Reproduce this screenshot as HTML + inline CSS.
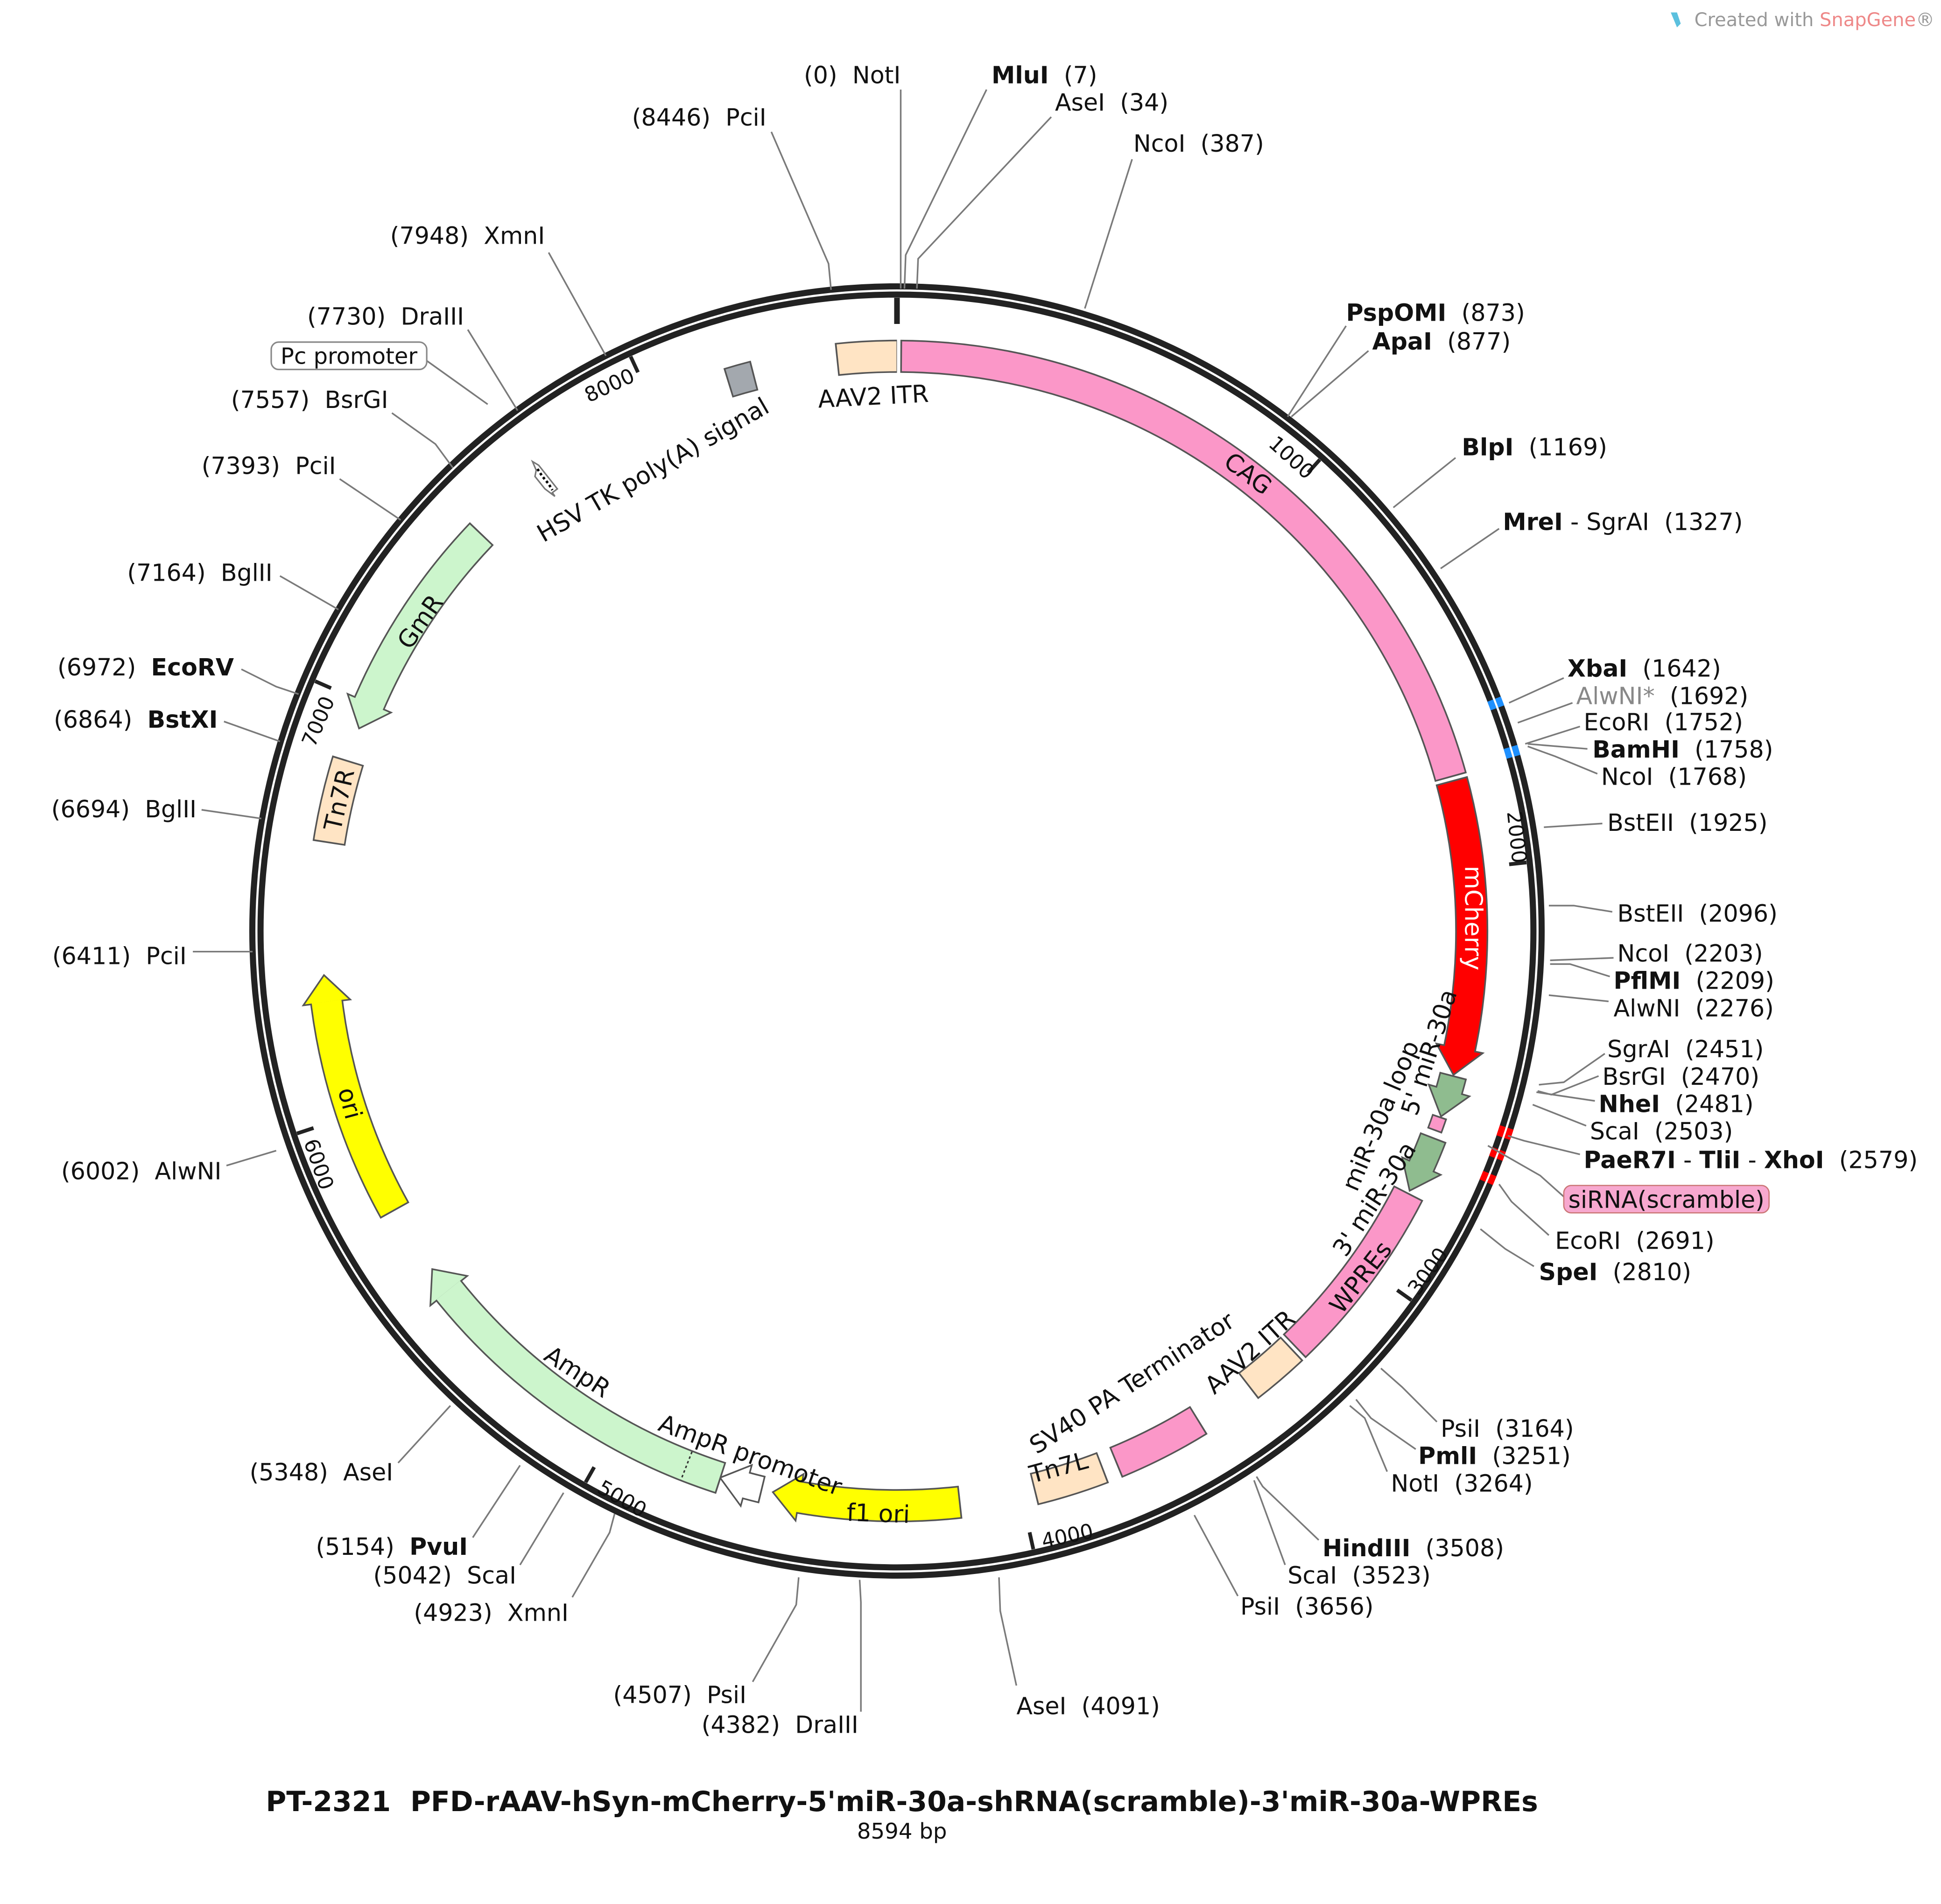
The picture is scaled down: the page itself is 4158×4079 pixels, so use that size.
<!DOCTYPE html>
<html><head><meta charset="utf-8">
<style>
html,body{margin:0;padding:0;background:#fff;}
svg{display:block;}
text{font-family:"DejaVu Sans","Liberation Sans",sans-serif;font-size:19px;fill:#111;white-space:pre;}
.b{font-weight:bold;}
.ld{stroke:#7a7a7a;stroke-width:1.3;fill:none;}
.c{fill:none;}
.h{stroke:#555;stroke-width:1.3;stroke-linejoin:miter;}
.fl{font-size:19.5px;}
.tk{font-size:16.5px;}
</style></head>
<body>
<svg xmlns="http://www.w3.org/2000/svg" width="4158" height="4079" viewBox="0 0 1560.2 1530.6">
<rect x="0" y="0" width="1560.2" height="1530.6" fill="#fff"/>

<!-- ring -->
<circle cx="721" cy="748.4" r="518.2" fill="none" stroke="#222" stroke-width="4.9"/>
<circle cx="721" cy="748.4" r="511.6" fill="none" stroke="#222" stroke-width="4.9"/>
<g transform="rotate(-90 721 748.4)">
<circle class="c" cx="721" cy="748.4" r="518.2" pathLength="8594" stroke="#1e90ff" stroke-width="5" stroke-dasharray="20 99999" stroke-dashoffset="-1642"/>
<circle class="c" cx="721" cy="748.4" r="511.6" pathLength="8594" stroke="#1e90ff" stroke-width="5" stroke-dasharray="20 99999" stroke-dashoffset="-1642"/>
<circle class="c" cx="721" cy="748.4" r="518.2" pathLength="8594" stroke="#1e90ff" stroke-width="5" stroke-dasharray="22 99999" stroke-dashoffset="-1750"/>
<circle class="c" cx="721" cy="748.4" r="511.6" pathLength="8594" stroke="#1e90ff" stroke-width="5" stroke-dasharray="22 99999" stroke-dashoffset="-1750"/>
<circle class="c" cx="721" cy="748.4" r="518.2" pathLength="8594" stroke="#f00" stroke-width="5" stroke-dasharray="23 99999" stroke-dashoffset="-2575"/>
<circle class="c" cx="721" cy="748.4" r="511.6" pathLength="8594" stroke="#f00" stroke-width="5" stroke-dasharray="23 99999" stroke-dashoffset="-2575"/>
<circle class="c" cx="721" cy="748.4" r="518.2" pathLength="8594" stroke="#f00" stroke-width="5" stroke-dasharray="20 99999" stroke-dashoffset="-2625"/>
<circle class="c" cx="721" cy="748.4" r="511.6" pathLength="8594" stroke="#f00" stroke-width="5" stroke-dasharray="20 99999" stroke-dashoffset="-2625"/>
<circle class="c" cx="721" cy="748.4" r="518.2" pathLength="8594" stroke="#f00" stroke-width="5" stroke-dasharray="20 99999" stroke-dashoffset="-2680"/>
<circle class="c" cx="721" cy="748.4" r="511.6" pathLength="8594" stroke="#f00" stroke-width="5" stroke-dasharray="20 99999" stroke-dashoffset="-2680"/>
</g>

<!-- ticks -->
<g stroke="#222" stroke-width="3">
<line x1="721" y1="239.4" x2="721" y2="260.4" stroke-width="4.5"/>
<line x1="1060.9" y1="369.5" x2="1051.5" y2="379.9"/>
<line x1="1227.0" y1="693.3" x2="1213.1" y2="694.8"/>
<line x1="1134.5" y1="1045.2" x2="1123.1" y2="1037.1"/>
<line x1="830.6" y1="1245.4" x2="827.6" y2="1231.8"/>
<line x1="470.7" y1="1191.6" x2="477.6" y2="1179.4"/>
<line x1="238.7" y1="911.2" x2="252.0" y2="906.8"/>
<line x1="253.3" y1="547.6" x2="266.1" y2="553.2"/>
<line x1="506.9" y1="286.6" x2="512.8" y2="299.3"/>
</g>

<!-- features: outlines -->
<g transform="rotate(-90 721 748.4)" stroke="#555">
<circle class="c" cx="721" cy="748.4" r="462" pathLength="8594" stroke-width="26.6" stroke-dasharray="147 99999" stroke-dashoffset="-8451"/>
<circle class="c" cx="721" cy="748.4" r="462" pathLength="8594" stroke-width="26.6" stroke-dasharray="1771 99999" stroke-dashoffset="-8"/>
<circle class="c" cx="721" cy="748.4" r="462" pathLength="8594" stroke-width="26.6" stroke-dasharray="644 99999" stroke-dashoffset="-1786"/>
<circle class="c" cx="721" cy="748.4" r="462" pathLength="8594" stroke-width="22.6" stroke-dasharray="37 99999" stroke-dashoffset="-2496"/>
<circle class="c" cx="721" cy="748.4" r="461" pathLength="8594" stroke-width="12.6" stroke-dasharray="37 99999" stroke-dashoffset="-2599"/>
<circle class="c" cx="721" cy="748.4" r="462" pathLength="8594" stroke-width="22.6" stroke-dasharray="74 99999" stroke-dashoffset="-2651"/>
<circle class="c" cx="721" cy="748.4" r="462" pathLength="8594" stroke-width="26.6" stroke-dasharray="458 99999" stroke-dashoffset="-2796"/>
<circle class="c" cx="721" cy="748.4" r="462" pathLength="8594" stroke-width="26.6" stroke-dasharray="138 99999" stroke-dashoffset="-3261"/>
<circle class="c" cx="721" cy="748.4" r="462" pathLength="8594" stroke-width="26.6" stroke-dasharray="223 99999" stroke-dashoffset="-3541"/>
<circle class="c" cx="721" cy="748.4" r="462" pathLength="8594" stroke-width="26.6" stroke-dasharray="173 99999" stroke-dashoffset="-3796"/>
<circle class="c" cx="721" cy="748.4" r="462" pathLength="8594" stroke-width="26.6" stroke-dasharray="384 99999" stroke-dashoffset="-4146"/>
<circle class="c" cx="721" cy="748.4" r="462" pathLength="8594" stroke-width="22.6" stroke-dasharray="39 99999" stroke-dashoffset="-4621"/>
<circle class="c" cx="721" cy="748.4" r="462" pathLength="8594" stroke-width="26.6" stroke-dasharray="797 99999" stroke-dashoffset="-4723"/>
<circle class="c" cx="721" cy="748.4" r="462" pathLength="8594" stroke-width="26.6" stroke-dasharray="524 99999" stroke-dashoffset="-5751"/>
<circle class="c" cx="721" cy="748.4" r="462" pathLength="8594" stroke-width="26.6" stroke-dasharray="203 99999" stroke-dashoffset="-6656"/>
<circle class="c" cx="721" cy="748.4" r="462" pathLength="8594" stroke-width="26.6" stroke-dasharray="488 99999" stroke-dashoffset="-7003"/>
<circle class="c" cx="721" cy="748.4" r="461" pathLength="8594" stroke-width="24.6" stroke-dasharray="66 99999" stroke-dashoffset="-8186"/>
</g>

<!-- arrowheads -->
<polygon class="h" fill="#ff0000" points="1154.6,838.9 1191.9,846.6 1168.3,864.1"/>
<polygon class="h" fill="#8fbc8f" points="1148.5,871.9 1181.2,881.3 1158.3,897.5"/>
<polygon class="h" fill="#8fbc8f" points="1127.1,930.4 1158.1,944.4 1133.1,957.2"/>
<polygon class="h" fill="#ffff00" points="645.9,1185.0 639.5,1222.4 621.2,1199.5"/>
<polygon class="h" fill="#ffffff" points="604.3,1177.8 595.4,1210.6 578.8,1187.9"/>
<polygon class="h" fill="#ccf5cc" points="375.6,1025.7 345.9,1049.5 347.4,1020.2"/>
<polygon class="h" fill="#ffff00" points="281.5,803.5 243.8,808.2 260.4,783.9"/>
<polygon class="h" fill="#ccf5cc" points="314.3,572.8 279.4,557.8 288.6,585.6"/>

<!-- features: fills -->
<g transform="rotate(-90 721 748.4)">
<circle class="c" cx="721" cy="748.4" r="462" pathLength="8594" stroke="#ffe4c4" stroke-width="24" stroke-dasharray="139 99999" stroke-dashoffset="-8455"/>
<circle class="c" cx="721" cy="748.4" r="462" pathLength="8594" stroke="#fb97c8" stroke-width="24" stroke-dasharray="1763 99999" stroke-dashoffset="-12"/>
<circle class="c" cx="721" cy="748.4" r="462" pathLength="8594" stroke="#ff0000" stroke-width="24" stroke-dasharray="643 99999" stroke-dashoffset="-1790"/>
<circle class="c" cx="721" cy="748.4" r="462" pathLength="8594" stroke="#8fbc8f" stroke-width="20" stroke-dasharray="36 99999" stroke-dashoffset="-2500"/>
<circle class="c" cx="721" cy="748.4" r="461" pathLength="8594" stroke="#fb97c8" stroke-width="10" stroke-dasharray="29 99999" stroke-dashoffset="-2603"/>
<circle class="c" cx="721" cy="748.4" r="462" pathLength="8594" stroke="#8fbc8f" stroke-width="20" stroke-dasharray="73 99999" stroke-dashoffset="-2655"/>
<circle class="c" cx="721" cy="748.4" r="462" pathLength="8594" stroke="#fb97c8" stroke-width="24" stroke-dasharray="450 99999" stroke-dashoffset="-2800"/>
<circle class="c" cx="721" cy="748.4" r="462" pathLength="8594" stroke="#ffe4c4" stroke-width="24" stroke-dasharray="130 99999" stroke-dashoffset="-3265"/>
<circle class="c" cx="721" cy="748.4" r="462" pathLength="8594" stroke="#fb97c8" stroke-width="24" stroke-dasharray="215 99999" stroke-dashoffset="-3545"/>
<circle class="c" cx="721" cy="748.4" r="462" pathLength="8594" stroke="#ffe4c4" stroke-width="24" stroke-dasharray="165 99999" stroke-dashoffset="-3800"/>
<circle class="c" cx="721" cy="748.4" r="462" pathLength="8594" stroke="#ffff00" stroke-width="24" stroke-dasharray="383 99999" stroke-dashoffset="-4150"/>
<circle class="c" cx="721" cy="748.4" r="462" pathLength="8594" stroke="#ffffff" stroke-width="20" stroke-dasharray="38 99999" stroke-dashoffset="-4625"/>
<circle class="c" cx="721" cy="748.4" r="462" pathLength="8594" stroke="#ccf5cc" stroke-width="24" stroke-dasharray="796 99999" stroke-dashoffset="-4727"/>
<circle class="c" cx="721" cy="748.4" r="462" pathLength="8594" stroke="#ffff00" stroke-width="24" stroke-dasharray="523 99999" stroke-dashoffset="-5755"/>
<circle class="c" cx="721" cy="748.4" r="462" pathLength="8594" stroke="#ffe4c4" stroke-width="24" stroke-dasharray="195 99999" stroke-dashoffset="-6660"/>
<circle class="c" cx="721" cy="748.4" r="462" pathLength="8594" stroke="#ccf5cc" stroke-width="24" stroke-dasharray="487 99999" stroke-dashoffset="-7000"/>
<circle class="c" cx="721" cy="748.4" r="461" pathLength="8594" stroke="#a3a8ae" stroke-width="22" stroke-dasharray="58 99999" stroke-dashoffset="-8190"/>
</g>
<line x1="556.2" y1="1167.1" x2="547.4" y2="1189.5" stroke="#333" stroke-width="1.2" stroke-dasharray="2,2"/>
<!-- HSV TK polyA small arrow -->
<polygon points="428,371 433,374 448,393 444,396 446,399 438,393 430,383 431,378" fill="#fff" stroke="#777" stroke-width="1.2"/>
<polyline points="432,377 436,383 441,389 444,394" fill="none" stroke="#000" stroke-width="2" stroke-dasharray="2,2"/>

<!-- leader lines -->
<g class="ld">
<polyline points="724,72 724,205 724,232"/>
<polyline points="793,72 728,205 727,232"/>
<polyline points="845,94 738,208 737,232"/>
<polyline points="910,128 872,248"/>
<polyline points="620,106 666,212 668,233"/>
<polyline points="441,203 487,286"/>
<polyline points="376,265 416,330"/>
<polyline points="343,290 392,325"/>
<polyline points="315,332 350,357 364,376"/>
<polyline points="273,385 322,418"/>
<polyline points="225,463 272,490"/>
<polyline points="194,538 222,552 240,558"/>
<polyline points="180,580 225,596"/>
<polyline points="162,651 210,658"/>
<polyline points="155,765 203,765"/>
<polyline points="182,937 222,925"/>
<polyline points="320,1176 362,1130"/>
<polyline points="380,1236 418,1178"/>
<polyline points="418,1258 453,1200"/>
<polyline points="460,1284 490,1232 494,1217"/>
<polyline points="605,1352 640,1290 642,1268"/>
<polyline points="692,1376 692,1288 691,1270"/>
<polyline points="817,1355 804,1295 803,1268"/>
<polyline points="995,1283 960,1218"/>
<polyline points="1033,1258 1008,1190"/>
<polyline points="1060,1238 1015,1195 1010,1187"/>
<polyline points="1115,1183 1097,1140 1085,1130"/>
<polyline points="1138,1165 1102,1140 1090,1125"/>
<polyline points="1155,1143 1127,1115 1110,1100"/>
<polyline points="1233,1018 1210,1004 1190,988"/>
<polyline points="1245,993 1215,966 1205,952"/>
<polyline points="1257,962 1238,945 1196,921"/>
<polyline points="1270,928 1225,917 1212,913"/>
<polyline points="1275,905 1232,888"/>
<polyline points="1282,885 1235,878"/>
<polyline points="1285,865 1247,880 1236,877"/>
<polyline points="1290,847 1257,870 1237,872"/>
<polyline points="1293,805 1245,800"/>
<polyline points="1294,785 1262,775 1246,775"/>
<polyline points="1297,770 1246,772"/>
<polyline points="1296,733 1265,728 1245,728"/>
<polyline points="1288,662 1241,665"/>
<polyline points="1284,622 1250,608 1228,600"/>
<polyline points="1276,602 1228,598"/>
<polyline points="1270,584 1226,598"/>
<polyline points="1264,565 1220,581"/>
<polyline points="1257,545 1213,565"/>
<polyline points="1205,425 1158,457"/>
<polyline points="1170,368 1120,408"/>
<polyline points="1082,262 1035,335"/>
<polyline points="1100,282 1038,335"/>
</g>

<!-- enzyme labels -->
<text x="724" y="67" text-anchor="end">(0)  NotI</text>
<text x="797" y="67"><tspan class="b">MluI</tspan>  (7)</text>
<text x="848" y="89">AseI  (34)</text>
<text x="911" y="122">NcoI  (387)</text>
<text x="616" y="101" text-anchor="end">(8446)  PciI</text>
<text x="438" y="196" text-anchor="end">(7948)  XmnI</text>
<text x="373" y="261" text-anchor="end">(7730)  DraIII</text>
<rect x="218" y="275" width="125" height="22" rx="6" fill="#fff" stroke="#888" stroke-width="1.2"/>
<text x="280.5" y="292.5" text-anchor="middle" style="font-size:18px">Pc promoter</text>
<text x="312" y="328" text-anchor="end">(7557)  BsrGI</text>
<text x="270" y="381" text-anchor="end">(7393)  PciI</text>
<text x="219" y="467" text-anchor="end">(7164)  BglII</text>
<text x="188" y="543" text-anchor="end">(6972)  <tspan class="b">EcoRV</tspan></text>
<text x="175" y="585" text-anchor="end">(6864)  <tspan class="b">BstXI</tspan></text>
<text x="158" y="657" text-anchor="end">(6694)  BglII</text>
<text x="150" y="775" text-anchor="end">(6411)  PciI</text>
<text x="178" y="948" text-anchor="end">(6002)  AlwNI</text>
<text x="316" y="1190" text-anchor="end">(5348)  AseI</text>
<text x="376" y="1250" text-anchor="end">(5154)  <tspan class="b">PvuI</tspan></text>
<text x="415" y="1273" text-anchor="end">(5042)  ScaI</text>
<text x="457" y="1303" text-anchor="end">(4923)  XmnI</text>
<text x="600" y="1369" text-anchor="end">(4507)  PsiI</text>
<text x="690" y="1393" text-anchor="end">(4382)  DraIII</text>
<text x="817" y="1378">AseI  (4091)</text>
<text x="997" y="1298">PsiI  (3656)</text>
<text x="1035" y="1273">ScaI  (3523)</text>
<text x="1063" y="1251"><tspan class="b">HindIII</tspan>  (3508)</text>
<text x="1118" y="1199">NotI  (3264)</text>
<text x="1140" y="1177"><tspan class="b">PmlI</tspan>  (3251)</text>
<text x="1158" y="1155">PsiI  (3164)</text>
<text x="1237" y="1029"><tspan class="b">SpeI</tspan>  (2810)</text>
<text x="1250" y="1004">EcoRI  (2691)</text>
<rect x="1257" y="953" width="165" height="22" rx="6" fill="#f7a8cf" stroke="#c77" stroke-width="1"/>
<text x="1339.5" y="971" text-anchor="middle">siRNA(scramble)</text>
<text x="1273" y="939"><tspan class="b">PaeR7I</tspan> - <tspan class="b">TliI</tspan> - <tspan class="b">XhoI</tspan>  (2579)</text>
<text x="1278" y="916">ScaI  (2503)</text>
<text x="1285" y="894"><tspan class="b">NheI</tspan>  (2481)</text>
<text x="1288" y="872">BsrGI  (2470)</text>
<text x="1292" y="850">SgrAI  (2451)</text>
<text x="1297" y="817">AlwNI  (2276)</text>
<text x="1297" y="795"><tspan class="b">PflMI</tspan>  (2209)</text>
<text x="1300" y="773">NcoI  (2203)</text>
<text x="1300" y="741">BstEII  (2096)</text>
<text x="1292" y="668">BstEII  (1925)</text>
<text x="1287" y="631">NcoI  (1768)</text>
<text x="1280" y="609"><tspan class="b">BamHI</tspan>  (1758)</text>
<text x="1273" y="587">EcoRI  (1752)</text>
<text x="1267" y="566"><tspan style="fill:#888">AlwNI*</tspan>  (1692)</text>
<text x="1260" y="544"><tspan class="b">XbaI</tspan>  (1642)</text>
<text x="1208" y="426"><tspan class="b">MreI</tspan> - SgrAI  (1327)</text>
<text x="1175" y="366"><tspan class="b">BlpI</tspan>  (1169)</text>
<text x="1082" y="258"><tspan class="b">PspOMI</tspan>  (873)</text>
<text x="1103" y="281"><tspan class="b">ApaI</tspan>  (877)</text>

<!-- tick labels -->
<text class="tk" transform="translate(1038,368) rotate(42)" text-anchor="middle" dominant-baseline="central">1000</text>
<text class="tk" transform="translate(1219,673) rotate(84)" text-anchor="middle" dominant-baseline="central">2000</text>
<text class="tk" transform="translate(1148,1022) rotate(-54)" text-anchor="middle" dominant-baseline="central">3000</text>
<text class="tk" transform="translate(858,1235) rotate(-12)" text-anchor="middle" dominant-baseline="central">4000</text>
<text class="tk" transform="translate(500,1205) rotate(30)" text-anchor="middle" dominant-baseline="central">5000</text>
<text class="tk" transform="translate(256,936) rotate(71)" text-anchor="middle" dominant-baseline="central">6000</text>
<text class="tk" transform="translate(256,580) rotate(-67)" text-anchor="middle" dominant-baseline="central">7000</text>
<text class="tk" transform="translate(490,310) rotate(-25)" text-anchor="middle" dominant-baseline="central">8000</text>

<!-- feature labels -->
<text class="fl" transform="translate(702,319) rotate(-3)" text-anchor="middle" dominant-baseline="central">AAV2 ITR</text>
<text class="fl" transform="translate(1003,381) rotate(37)" text-anchor="middle" dominant-baseline="central">CAG</text>
<text class="fl" transform="translate(1184,738) rotate(90)" text-anchor="middle" dominant-baseline="central" style="fill:#fff">mCherry</text>
<text class="fl" transform="translate(1149,846) rotate(-72)" text-anchor="middle" dominant-baseline="central">5' miR-30a</text>
<text class="fl" transform="translate(1110,897) rotate(-67)" text-anchor="middle" dominant-baseline="central">miR-30a loop</text>
<text class="fl" transform="translate(1105,964) rotate(-57)" text-anchor="middle" dominant-baseline="central">3' miR-30a</text>
<text class="fl" transform="translate(1094,1027) rotate(-52)" text-anchor="middle" dominant-baseline="central">WPREs</text>
<text class="fl" transform="translate(1005,1087) rotate(-42)" text-anchor="middle" dominant-baseline="central">AAV2 ITR</text>
<text class="fl" transform="translate(910,1112) rotate(-33)" text-anchor="middle" dominant-baseline="central">SV40 PA Terminator</text>
<text class="fl" transform="translate(851,1180) rotate(-15)" text-anchor="middle" dominant-baseline="central">Tn7L</text>
<text class="fl" transform="translate(706,1217) rotate(2)" text-anchor="middle" dominant-baseline="central">f1 ori</text>
<text class="fl" transform="translate(603,1170) rotate(20)" text-anchor="middle" dominant-baseline="central">AmpR promoter</text>
<text class="fl" transform="translate(464,1103) rotate(33)" text-anchor="middle" dominant-baseline="central">AmpR</text>
<text class="fl" transform="translate(281,887) rotate(75)" text-anchor="middle" dominant-baseline="central">ori</text>
<text class="fl" transform="translate(273,643) rotate(-77)" text-anchor="middle" dominant-baseline="central">Tn7R</text>
<text class="fl" transform="translate(338,500) rotate(-55)" text-anchor="middle" dominant-baseline="central">GmR</text>
<text class="fl" transform="translate(525,378) rotate(-30)" text-anchor="middle" dominant-baseline="central">HSV TK poly(A) signal</text>

<!-- title -->
<text x="725" y="1456" text-anchor="middle" class="b" style="font-size:22.5px">PT-2321  PFD-rAAV-hSyn-mCherry-5'miR-30a-shRNA(scramble)-3'miR-30a-WPREs</text>
<text x="725" y="1478" text-anchor="middle" style="font-size:17.5px">8594 bp</text>
<text x="1555" y="21" text-anchor="end" style="font-size:15px;fill:#999">Created with <tspan style="fill:#e88">SnapGene</tspan>®</text>
<path d="M1343,10 l5,0 l3,9 l-3,3 z" fill="#5bc0de"/>
</svg>
</body></html>
